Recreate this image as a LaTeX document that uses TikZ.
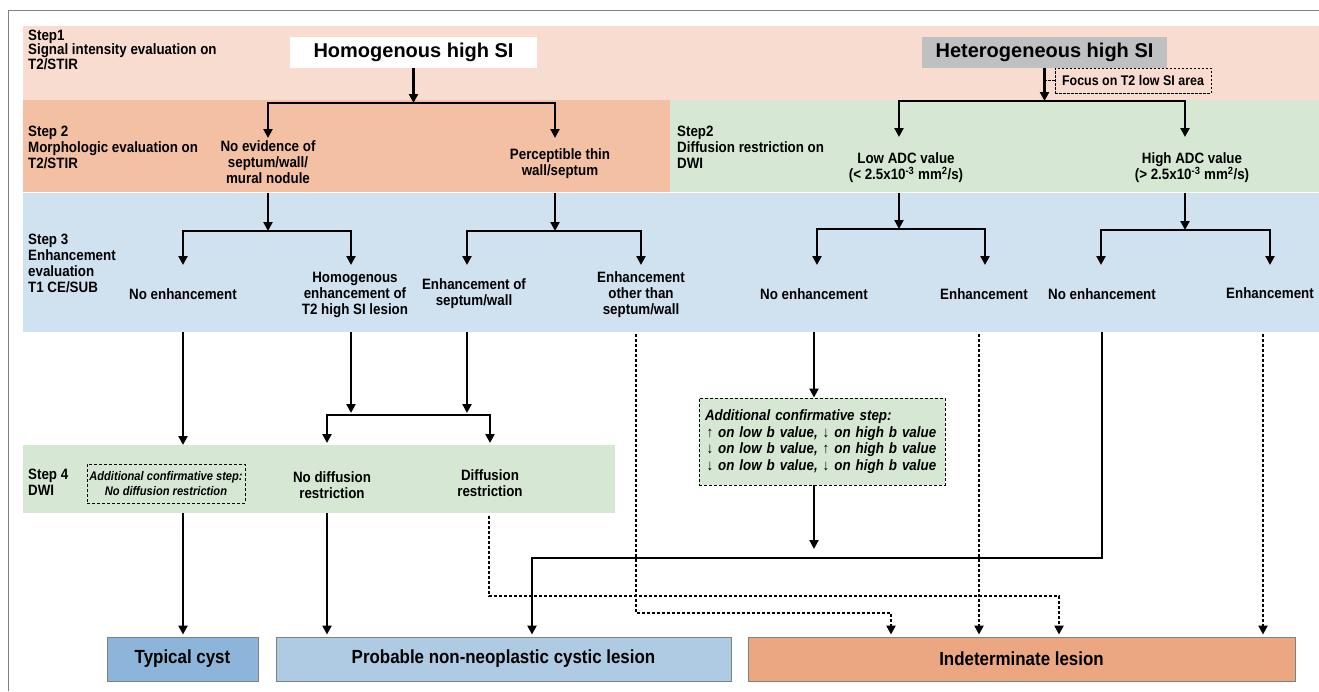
\documentclass[tikz,border=0pt]{standalone}
\usepackage{fontspec}
\setmainfont{Liberation Sans}
\newfontfamily\narrowsans[FakeStretch=0.89]{Liberation Sans}
\usetikzlibrary{arrows.meta}

\definecolor{bandpink}{HTML}{F8DCCF}
\definecolor{bandsalmon}{HTML}{F4C0A3}
\definecolor{bandgreen}{HTML}{D6E8D4}
\definecolor{bandblue}{HTML}{D0E1F0}
\definecolor{hetgray}{HTML}{BFC0C2}
\definecolor{cystblue}{HTML}{8DB4D9}
\definecolor{probblue}{HTML}{AECBE3}
\definecolor{indorange}{HTML}{EBA782}
\definecolor{framegray}{HTML}{808080}

\begin{document}
\begin{tikzpicture}[x=1pt,y=-1pt,
  band/.style={fill=#1, draw=none, inner sep=0pt, outer sep=0pt, anchor=north west},
  lbl/.style={font=\narrowsans\bfseries\fontsize{15}{16}\selectfont, align=center, inner sep=1pt},
  steplbl/.style={lbl, align=left, anchor=west},
  title/.style={font=\bfseries\fontsize{20}{24}\selectfont, inner sep=0pt, minimum height=31pt},
  note/.style={font=\narrowsans\bfseries\itshape\fontsize{15}{16.5}\selectfont, draw=black, line width=0.9pt,
    dash pattern=on 3pt off 2pt, inner sep=0pt},
  outcome/.style={font=\narrowsans\bfseries\fontsize{19}{22}\selectfont, draw=framegray, line width=0.9pt,
    minimum height=44pt, inner sep=0pt},
  conn/.style={line width=2.8pt, -{Triangle[width=9pt,length=9pt]}},
  dotconn/.style={line width=2.8pt, dash pattern=on 2.6pt off 2.4pt, -{Triangle[width=9pt,length=9pt]}},
]
\useasboundingbox (0,0) rectangle (1319,691);

% frame
\draw[framegray, line width=1pt] (8,691) -- (8,10) -- (1319,10);

% step bands
\node[band=bandpink,   minimum width=1296pt, minimum height=74pt]  (b1)  at (23,26)  {};
\node[band=bandsalmon, minimum width=647pt,  minimum height=92pt]  (b2l) at (23,100) {};
\node[band=bandgreen,  minimum width=649pt,  minimum height=92pt]  (b2r) at (670,100) {};
\node[band=bandblue,   minimum width=1296pt, minimum height=139pt] (b3)  at (23,193) {};
\node[band=bandgreen,  minimum width=592pt,  minimum height=68pt]  (b4)  at (23,445) {};

% step captions
\node[steplbl, font=\narrowsans\bfseries\fontsize{15}{14.5}\selectfont] (s1) at (27,49.5)
  {Step1\\Signal intensity evaluation on\\T2/STIR};
\node[steplbl] (s2) at (27,147) {Step 2\\Morphologic evaluation on\\T2/STIR};
\node[steplbl] (s2r) at (676,147) {Step2\\Diffusion restriction on\\DWI};
\node[steplbl] (s3) at (27,263) {Step 3\\Enhancement\\evaluation\\T1 CE/SUB};
\node[steplbl] (s4) at (27,482) {Step 4\\DWI};

% step 1
\node[title, fill=white, minimum width=247pt] (homo) at (413.5,52.5) {Homogenous high SI};
\node[title, fill=hetgray, minimum width=245pt] (hetero) at (1044.5,52) {Heterogeneous high SI};
\node[font=\narrowsans\bfseries\fontsize{14}{16}\selectfont, draw=black, line width=0.8pt,
  dash pattern=on 2.5pt off 1.5pt, minimum width=156pt, minimum height=25pt, inner sep=0pt]
  (focus) at (1133,80.5) {Focus on T2 low SI area};

% step 2
\node[lbl] (noev) at (268,162.5) {No evidence of\\septum/wall/\\mural nodule};
\node[lbl] (perc) at (560,164) {Perceptible thin\\wall/septum};
\node[lbl] (lowadc) at (906,168) {Low ADC value\\(< 2.5x10\textsuperscript{-3} mm\textsuperscript{2}/s)};
\node[lbl] (highadc) at (1192,168) {High ADC value\\(> 2.5x10\textsuperscript{-3} mm\textsuperscript{2}/s)};

% step 3
\node[lbl] (ne1) at (183,294) {No enhancement};
\node[lbl] (he) at (355,295) {Homogenous\\enhancement of\\T2 high SI lesion};
\node[lbl] (es) at (474,294) {Enhancement of\\septum/wall};
\node[lbl] (eo) at (641,295) {Enhancement\\other than\\septum/wall};
\node[lbl] (ne2) at (814,294) {No enhancement};
\node[lbl] (en2) at (984,294) {Enhancement};
\node[lbl] (ne3) at (1102,294) {No enhancement};
\node[lbl] (en3) at (1270,293) {Enhancement};

% step 4
\node[note, font=\narrowsans\bfseries\itshape\fontsize{12.5}{15}\selectfont,
  minimum width=158pt, minimum height=39pt, align=center] (conf4) at (166,483.5)
  {Additional confirmative step:\\No diffusion restriction};
\node[lbl] (nd) at (332,485) {No diffusion\\restriction};
\node[lbl] (dr) at (490,483) {Diffusion\\restriction};

% confirmative DWI step for low ADC lesions
\node[note, fill=bandgreen, align=left, minimum width=246pt, minimum height=87pt, text width=234pt]
  (conf) at (822,441.5)
  {Additional confirmative step:\\
   \hspace*{1.5pt}↑ on low b value, ↓ on high b value\\
   \hspace*{1.5pt}↓ on low b value, ↑ on high b value\\
   \hspace*{1.5pt}↓ on low b value, ↓ on high b value};

% outcomes
\node[outcome, fill=cystblue,  minimum width=151pt] (typ)  at (182.5,659) {Typical cyst};
\node[outcome, fill=probblue,  minimum width=455pt] (prob) at (503.5,659) {Probable non-neoplastic cystic lesion};
\node[outcome, fill=indorange, minimum width=547pt] (ind)  at (1021.5,659) {Indeterminate lesion};

% junctions and arrow targets
\coordinate (j1) at (413.5,103);
\coordinate (t-noev) at (268,138);
\coordinate (t-perc) at (555,138);
\coordinate (j2) at (1044.5,101);
\coordinate (t-low) at (899,137);
\coordinate (t-high) at (1185,137);

\coordinate (j3) at (268,231);
\coordinate (t-ne1) at (183,265);
\coordinate (t-he) at (351,265);
\coordinate (j4) at (555,231);
\coordinate (t-es) at (467,265);
\coordinate (t-eo) at (641,265);
\coordinate (j5) at (899,229);
\coordinate (t-ne2) at (817,265);
\coordinate (t-en2) at (985,265);
\coordinate (j6) at (1185,230);
\coordinate (t-ne3) at (1101,265);
\coordinate (t-en3) at (1270,265);

\coordinate (o-ne1) at (183,332);
\coordinate (o-he) at (351,332);
\coordinate (o-es) at (467,332);
\coordinate (o-eo) at (636,334);
\coordinate (o-ne2) at (814,332);
\coordinate (o-en2) at (979,334);
\coordinate (o-ne3) at (1102,332);
\coordinate (o-en3) at (1263,334);

\coordinate (h-he) at (351,413);
\coordinate (h-es) at (467,413);
\coordinate (j7) at (408,415);
\coordinate (t-nd) at (327,443);
\coordinate (t-dr) at (490,443);
\coordinate (o-dr) at (489,516);

\coordinate (k-dr) at (1059,596);
\coordinate (k-eo) at (891,613);
\coordinate (k-ne3) at (532,558);
\coordinate (h-conf) at (814,549);

% step 1 -> step 2
\draw[conn] (homo.south) -- (j1);
\draw[conn] (j1) -| (t-noev);
\draw[conn] (j1) -| (t-perc);
\draw[conn] (hetero.south) -- (j2);
\draw[conn] (j2) -| (t-low);
\draw[conn] (j2) -| (t-high);
\draw[line width=0.8pt, dash pattern=on 2.5pt off 1.5pt] (focus.west) -- (focus.west -| j2);

% step 2 -> step 3
\draw[conn] (t-noev |- b3.north) -- (j3);
\draw[conn] (j3) -| (t-ne1);
\draw[conn] (j3) -| (t-he);
\draw[conn] (t-perc |- b3.north) -- (j4);
\draw[conn] (j4) -| (t-es);
\draw[conn] (j4) -| (t-eo);
\draw[conn] (t-low |- b3.north) -- (j5);
\draw[conn] (j5) -| (t-ne2);
\draw[conn] (j5) -| (t-en2);
\draw[conn] (t-high |- b3.north) -- (j6);
\draw[conn] (j6) -| (t-ne3);
\draw[conn] (j6) -| (t-en3);

% homogenous branch -> step 4 -> outcomes
\draw[conn] (o-ne1) -- (o-ne1 |- b4.north);
\draw[conn] (o-ne1 |- b4.south) -- ([yshift=2pt]typ.north -| o-ne1);
\draw[conn] (o-he) -- (h-he);
\draw[conn] (o-es) -- (h-es);
\draw[conn] (j7) -| (t-nd);
\draw[conn] (j7) -| (t-dr);
\draw[conn] (t-nd |- b4.south) -- ([yshift=2pt]prob.north -| t-nd);
\draw[dotconn] (o-dr) |- (k-dr) -- ([yshift=2pt]ind.north -| k-dr);
\draw[dotconn] (o-eo) |- (k-eo) -- ([yshift=2pt]ind.north -| k-eo);

% heterogeneous branch -> outcomes
\draw[conn] (o-ne2) -- (conf.north -| o-ne2);
\draw[conn] (conf.south -| o-ne2) -- (h-conf);
\draw[dotconn] (o-en2) -- ([yshift=2pt]ind.north -| o-en2);
\draw[dotconn] (o-en3) -- ([yshift=2pt]ind.north -| o-en3);
\draw[conn] (o-ne3) |- (k-ne3) -- ([yshift=2pt]prob.north -| k-ne3);
\end{tikzpicture}
\end{document}
